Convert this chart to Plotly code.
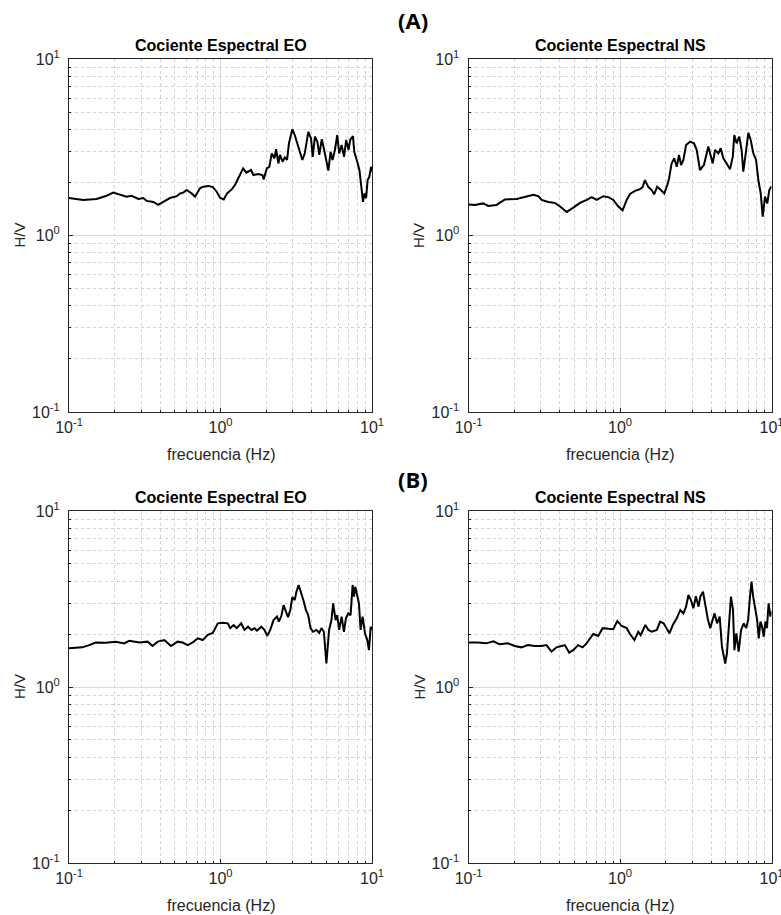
import plotly.graph_objects as go

# ---- H/V spectral ratios, station (A) ----
freq_a_eo = [0.100, 0.124, 0.152, 0.177, 0.196, 0.217, 0.240, 0.259, 0.287, 0.309,
             0.326, 0.360, 0.388, 0.419, 0.464, 0.514, 0.541, 0.568, 0.598, 0.646,
             0.679, 0.732, 0.77, 0.83, 0.89, 0.944, 0.995, 1.05, 1.105, 1.19,
             1.246, 1.31, 1.41, 1.48, 1.59, 1.65, 1.77, 1.89, 1.93, 2.02,
             2.10, 2.18, 2.27, 2.33, 2.41, 2.47, 2.57, 2.66, 2.75, 2.83,
             2.98, 3.09, 3.25, 3.47, 3.60, 3.80, 3.96, 4.06, 4.20, 4.36,
             4.49, 4.66, 4.78, 4.98, 5.15, 5.33, 5.49, 5.69, 5.90, 6.07,
             6.30, 6.54, 6.75, 7.0, 7.18, 7.49, 7.64, 7.93, 8.26, 8.50,
             8.72, 8.91, 9.14, 9.36, 9.60, 9.86, 10.0]
hv_a_eo = [1.63, 1.59, 1.61, 1.68, 1.75, 1.70, 1.66, 1.68, 1.61, 1.63,
           1.57, 1.55, 1.49, 1.55, 1.63, 1.67, 1.73, 1.75, 1.81, 1.73,
           1.66, 1.85, 1.89, 1.91, 1.88, 1.77, 1.63, 1.60, 1.73, 1.83,
           1.93, 2.11, 2.40, 2.27, 2.35, 2.20, 2.23, 2.20, 2.08, 2.40,
           2.45, 2.92, 2.74, 3.08, 2.56, 2.86, 2.62, 2.77, 2.68, 3.33,
           4.0, 3.71, 3.19, 2.68, 2.92, 3.87, 3.55, 2.79, 3.63, 3.40,
           2.86, 3.51, 3.19, 2.62, 2.33, 2.98, 2.68, 3.05, 3.71, 2.92,
           3.26, 2.79, 3.48, 3.05, 3.48, 3.66, 2.98, 2.68, 2.35, 1.89,
           1.55, 1.73, 1.63, 2.06, 2.15, 2.45, 2.30]

freq_a_ns = [0.100, 0.110, 0.125, 0.135, 0.153, 0.174, 0.208, 0.242, 0.268, 0.289,
             0.304, 0.336, 0.372, 0.402, 0.445, 0.492, 0.544, 0.603, 0.650, 0.702,
             0.776, 0.837, 0.903, 0.975, 1.04, 1.107, 1.164, 1.256, 1.355, 1.41,
             1.46, 1.54, 1.62, 1.68, 1.76, 1.86, 1.96, 2.05, 2.11, 2.19,
             2.28, 2.37, 2.45, 2.53, 2.62, 2.73, 2.90, 3.08, 3.21, 3.37,
             3.58, 3.83, 3.97, 4.09, 4.24, 4.46, 4.62, 4.81, 5.06, 5.32,
             5.55, 5.68, 5.89, 6.13, 6.35, 6.51, 6.76, 7.03, 7.29, 7.59,
             7.91, 8.19, 8.49, 8.75, 9.06, 9.38, 9.67, 10.0]
hv_a_ns = [1.50, 1.49, 1.52, 1.47, 1.49, 1.60, 1.61, 1.66, 1.70, 1.67,
           1.59, 1.55, 1.53, 1.46, 1.36, 1.44, 1.53, 1.59, 1.65, 1.59,
           1.67, 1.65, 1.59, 1.46, 1.39, 1.59, 1.72, 1.79, 1.83, 1.88,
           2.06, 1.88, 1.81, 1.71, 1.89, 1.81, 1.73, 1.93, 2.11, 2.56,
           2.74, 2.45, 2.86, 2.51, 2.68, 3.26, 3.40, 3.33, 3.05, 2.35,
           2.51, 3.19, 2.79, 2.56, 3.05, 2.92, 3.12, 2.74, 2.56, 2.37,
           2.79, 3.71, 3.33, 3.63, 3.05, 2.30, 2.92, 3.82, 3.48, 2.92,
           2.68, 2.06, 1.73, 1.28, 1.66, 1.52, 1.81, 1.90]

# ---- H/V spectral ratios, station (B) ----
freq_b_eo = [0.100, 0.1225, 0.136, 0.150, 0.175, 0.204, 0.231, 0.250, 0.291, 0.330,
             0.356, 0.385, 0.426, 0.471, 0.521, 0.562, 0.607, 0.655, 0.708, 0.764,
             0.824, 0.889, 0.96, 1.036, 1.117, 1.16, 1.22, 1.28, 1.37, 1.44,
             1.52, 1.60, 1.68, 1.74, 1.86, 1.95, 2.03, 2.13, 2.24, 2.36,
             2.43, 2.52, 2.61, 2.69, 2.79, 2.89, 2.98, 3.09, 3.17, 3.28,
             3.42, 3.55, 3.66, 3.79, 3.93, 4.08, 4.30, 4.48, 4.64, 4.81,
             5.0, 5.21, 5.40, 5.54, 5.75, 5.89, 6.07, 6.30, 6.53, 6.73,
             6.97, 7.22, 7.45, 7.60, 7.76, 8.0, 8.20, 8.41, 8.67, 8.99,
             9.31, 9.55, 9.80, 10.0]
hv_b_eo = [1.66, 1.68, 1.73, 1.79, 1.785, 1.81, 1.77, 1.83, 1.79, 1.81,
           1.71, 1.81, 1.85, 1.71, 1.81, 1.79, 1.73, 1.79, 1.89, 1.85,
           1.98, 2.03, 2.30, 2.32, 2.30, 2.16, 2.25, 2.16, 2.30, 2.11,
           2.20, 2.11, 2.16, 2.09, 2.20, 2.11, 1.95, 2.11, 2.40, 2.51,
           2.35, 2.53, 2.92, 2.74, 2.49, 2.74, 3.24, 3.12, 3.48, 3.80,
           3.41, 3.05, 2.74, 2.56, 2.16, 2.06, 2.11, 2.03, 2.16, 2.06,
           1.36, 2.11, 2.40, 2.99, 2.40, 2.56, 2.11, 2.51, 2.06, 2.46,
           2.62, 2.56, 3.80, 3.26, 3.71, 3.33, 2.99, 2.11, 2.51, 2.02,
           1.85, 1.62, 2.20, 2.11]

freq_b_ns = [0.100, 0.115, 0.131, 0.146, 0.160, 0.182, 0.202, 0.223, 0.247, 0.274,
             0.303, 0.327, 0.353, 0.381, 0.411, 0.432, 0.462, 0.491, 0.529, 0.566,
             0.601, 0.666, 0.718, 0.768, 0.836, 0.903, 0.96, 1.026, 1.107, 1.164,
             1.245, 1.32, 1.37, 1.47, 1.54, 1.62, 1.75, 1.84, 1.94, 2.02,
             2.12, 2.23, 2.37, 2.50, 2.62, 2.73, 2.83, 2.94, 3.05, 3.17,
             3.30, 3.39, 3.53, 3.66, 3.79, 3.94, 4.08, 4.21, 4.37, 4.55,
             4.71, 4.95, 5.08, 5.21, 5.40, 5.57, 5.69, 5.86, 6.07, 6.30,
             6.56, 6.80, 7.01, 7.18, 7.38, 7.57, 7.76, 8.04, 8.24, 8.45,
             8.67, 8.89, 9.12, 9.33, 9.57, 9.84, 10.0]
hv_b_ns = [1.79, 1.79, 1.77, 1.82, 1.75, 1.77, 1.71, 1.68, 1.73, 1.71,
           1.71, 1.73, 1.59, 1.68, 1.71, 1.73, 1.57, 1.62, 1.73, 1.68,
           1.77, 2.0, 1.95, 2.16, 2.14, 2.13, 2.37, 2.22, 2.16, 2.0,
           1.85, 2.06, 1.97, 2.25, 2.11, 2.06, 2.11, 2.35, 2.30, 2.16,
           2.02, 2.25, 2.46, 2.74, 2.62, 2.86, 3.33, 3.12, 2.80, 3.28,
           2.86, 3.26, 3.48, 2.92, 2.46, 2.16, 2.40, 2.62, 2.30, 2.51,
           1.69, 1.36, 1.55, 2.20, 3.26, 2.74, 1.62, 2.02, 1.59, 2.11,
           2.30, 2.16, 2.40, 3.12, 3.97, 3.26, 2.86, 2.40, 1.89, 2.35,
           2.20, 1.93, 2.35, 2.16, 2.99, 2.51, 2.70]

panel_titles = ["Cociente Espectral EO", "Cociente Espectral NS"]
group_labels = ["(A)", "(B)"]
x_label = "frecuencia (Hz)"
y_label = "H/V"
decade_vals = [0.1, 1, 10]
decade_text = ["10<sup>-1</sup>", "10<sup>0</sup>", "10<sup>1</sup>"]
minor_vals = [m * d for d in (0.1, 1) for m in range(2, 10)]

series = [(freq_a_eo, hv_a_eo), (freq_a_ns, hv_a_ns),
          (freq_b_eo, hv_b_eo), (freq_b_ns, hv_b_ns)]
for f, h in series:
    assert len(f) == len(h)

W, H = 781, 915
# panel pixel boxes (left, right) and (top, bottom)
x_boxes = [(69, 372), (468.5, 771.5)]
y_boxes = [(59, 412), (511, 863)]

TXT = "#262626"
FONT = "Liberation Sans, Arial, sans-serif"

fig = go.Figure()
layout = dict(width=W, height=H,
              margin=dict(l=0, r=0, t=0, b=0, pad=0, autoexpand=False),
              paper_bgcolor="white", plot_bgcolor="white", showlegend=False,
              font=dict(family=FONT, color=TXT, size=14))

annotations = []
for row in range(2):
    for col in range(2):
        k = row * 2 + col
        idx = "" if k == 0 else str(k + 1)
        f, h = series[k]
        fig.add_trace(go.Scatter(x=f, y=h, mode="lines",
                                 line=dict(color="black", width=2),
                                 xaxis="x" + idx, yaxis="y" + idx,
                                 hoverinfo="x+y"))
        xl, xr = x_boxes[col]
        yt, yb = y_boxes[row]
        common = dict(type="log", range=[-1, 1], tickmode="array",
                      tickvals=decade_vals, ticktext=decade_text,
                      automargin=False, ticklabeloverflow="allow",
                      showgrid=True, gridcolor="#d9d9d9", gridwidth=1,
                      showline=True, linecolor=TXT, linewidth=1, mirror=True,
                      ticks="inside", ticklen=4, tickcolor=TXT, zeroline=False,
                      tickfont=dict(family=FONT, size=16, color=TXT),
                      minor=dict(tickmode="array", tickvals=minor_vals,
                                 showgrid=True, gridcolor="#d2d2d2",
                                 griddash="dot", gridwidth=1,
                                 ticks="inside", ticklen=2, tickcolor=TXT))
        layout["xaxis" + idx] = dict(common, domain=[xl / W, xr / W],
                                     anchor="y" + idx, ticklabelstandoff=1)
        layout["yaxis" + idx] = dict(common, domain=[1 - yb / H, 1 - yt / H],
                                     anchor="x" + idx, ticklabelstandoff=5)

        xc = (xl + xr) / 2
        # panel title
        annotations.append(dict(text="<b>" + panel_titles[col] + "</b>",
                                x=xc / W, y=1 - (yt - 14) / H,
                                xref="paper", yref="paper", showarrow=False,
                                xanchor="center", yanchor="middle",
                                font=dict(family=FONT, size=16, color="black")))
        # x axis label
        annotations.append(dict(text=x_label, x=xc / W, y=1 - (yb + 42) / H,
                                xref="paper", yref="paper", showarrow=False,
                                xanchor="center", yanchor="middle",
                                font=dict(family=FONT, size=16, color=TXT)))
        # y axis label
        annotations.append(dict(text=y_label, x=(xl - 50) / W,
                                y=1 - ((yt + yb) / 2) / H,
                                xref="paper", yref="paper", showarrow=False,
                                textangle=-90, xanchor="center", yanchor="middle",
                                font=dict(family=FONT, size=15, color=TXT)))

# group labels (A) and (B)
for lab, ypix in zip(group_labels, [20, 479]):
    annotations.append(dict(text="<b>" + lab + "</b>", x=413 / W, y=1 - ypix / H,
                            xref="paper", yref="paper", showarrow=False,
                            xanchor="center", yanchor="middle",
                            font=dict(family="Open Sans, Liberation Sans, sans-serif",
                                      size=22, color="black")))

layout["annotations"] = annotations
fig.update_layout(**layout)
fig.write_html("out.html")
